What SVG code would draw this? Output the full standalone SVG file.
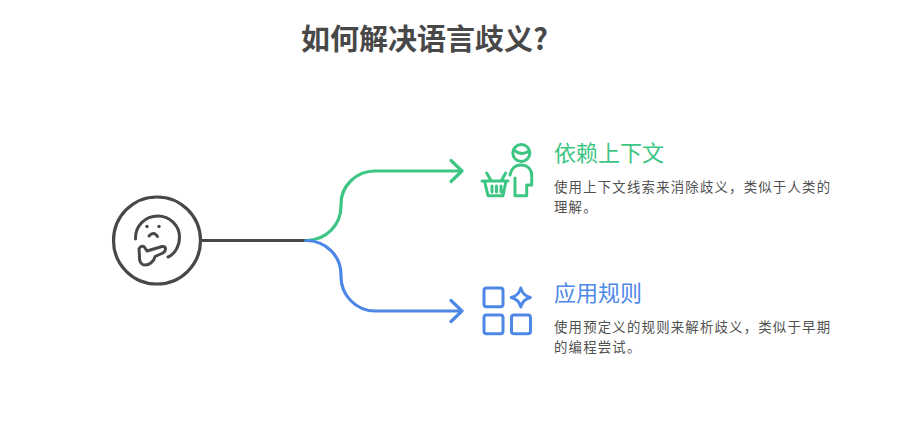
<svg xmlns="http://www.w3.org/2000/svg" width="899" height="436" viewBox="0 0 899 436">
<style>
text{font-family:"Noto Sans CJK SC","Noto Sans",sans-serif}
.t{font-size:29px;font-weight:700;fill:#484848}
.h{font-size:22px}
.d{font-size:13.400px;letter-spacing:1.200px;fill:#505050}
.ln{fill:none;stroke-width:3.2;stroke-linecap:round;stroke-linejoin:round}
.ic{fill:none;stroke-width:3;stroke-linecap:round;stroke-linejoin:round}
.g{stroke:#3cc583}.b{stroke:#4e88e7}.k{stroke:#484848}
</style>
<rect width="899" height="436" fill="#fff"/>
<text id="title" class="t" x="424.500" y="50" text-anchor="middle">如何解决语言歧义?</text>
<g id="connectors">
<path class="ln k" d="M201 240.500H306"/>
<path class="ln g" d="M306 240.500C326 240.500 341 225 341 206V204C341 186 356 171 375 171H462M451 160.500L462 171L451 181.500"/>
<path class="ln b" d="M306 240.500C326 240.500 341 256 341 275V277C341 295 356 311 375 311H462M451 300.500L462 311L451 321.500"/>
</g>
<g id="node-root">
<circle class="ln k" cx="157" cy="240.500" r="43.500"/>
<path class="ic k" d="M135.500 239C135 226 145 216 158 216C170 216 179.500 226 179.500 237C179.500 246 175 254 168 257"/>
<path class="ic k" d="M139 249C140 246 144 245 145 248L147 251L162 246.500C166 246 167 250 163 253L155 256.500C154 262 149 265 145 265C141 265 139 261 139.500 256Z"/>
<path class="ic k" d="M149 236C152 232.500 155 232.500 157.500 236.500"/>
<circle cx="147" cy="226.500" r="1.700" fill="#484848"/><circle cx="159" cy="226.500" r="1.700" fill="#484848"/>
</g>
<g id="node-context">
<circle class="ic g" cx="521.300" cy="153" r="8.500"/>
<path class="ic g" d="M514 150C519 154.500 524 154.500 529 151"/>
<path class="ic g" d="M510 175C511 169 515 165 521 165C527 165 531.700 169 531.700 175V185H526.700V195.700H515V178"/>
<path class="ic g" d="M482 181H508M484.500 181L488 195.700H503L506 181M486.700 173L490.700 180M505.700 173L501.700 180M492 186V192M496.500 186V192M501 186V192"/>
<text class="h" x="554" y="161" fill="#3cc583">依赖上下文</text>
<text class="d" x="554" y="192">使用上下文线索来消除歧义，类似于人类的</text>
<text class="d" x="554" y="211.500">理解。</text>
</g>
<g id="node-rules">
<rect class="ic b" x="484" y="288" width="19" height="18.700" rx="2.500"/>
<rect class="ic b" x="484" y="315" width="19" height="18.700" rx="2.500"/>
<rect class="ic b" x="511.500" y="315" width="19" height="18.700" rx="2.500"/>
<path class="ic b" d="M520.800 288C522 293 525 296 530.300 297.500C525 299 522 302 520.800 307C519.600 302 516.600 299 511.300 297.500C516.600 296 519.600 293 520.800 288Z"/>
<text class="h" x="554" y="301" fill="#4e88e7">应用规则</text>
<text class="d" x="554" y="332">使用预定义的规则来解析歧义，类似于早期</text>
<text class="d" x="554" y="351.500">的编程尝试。</text>
</g>
</svg>
